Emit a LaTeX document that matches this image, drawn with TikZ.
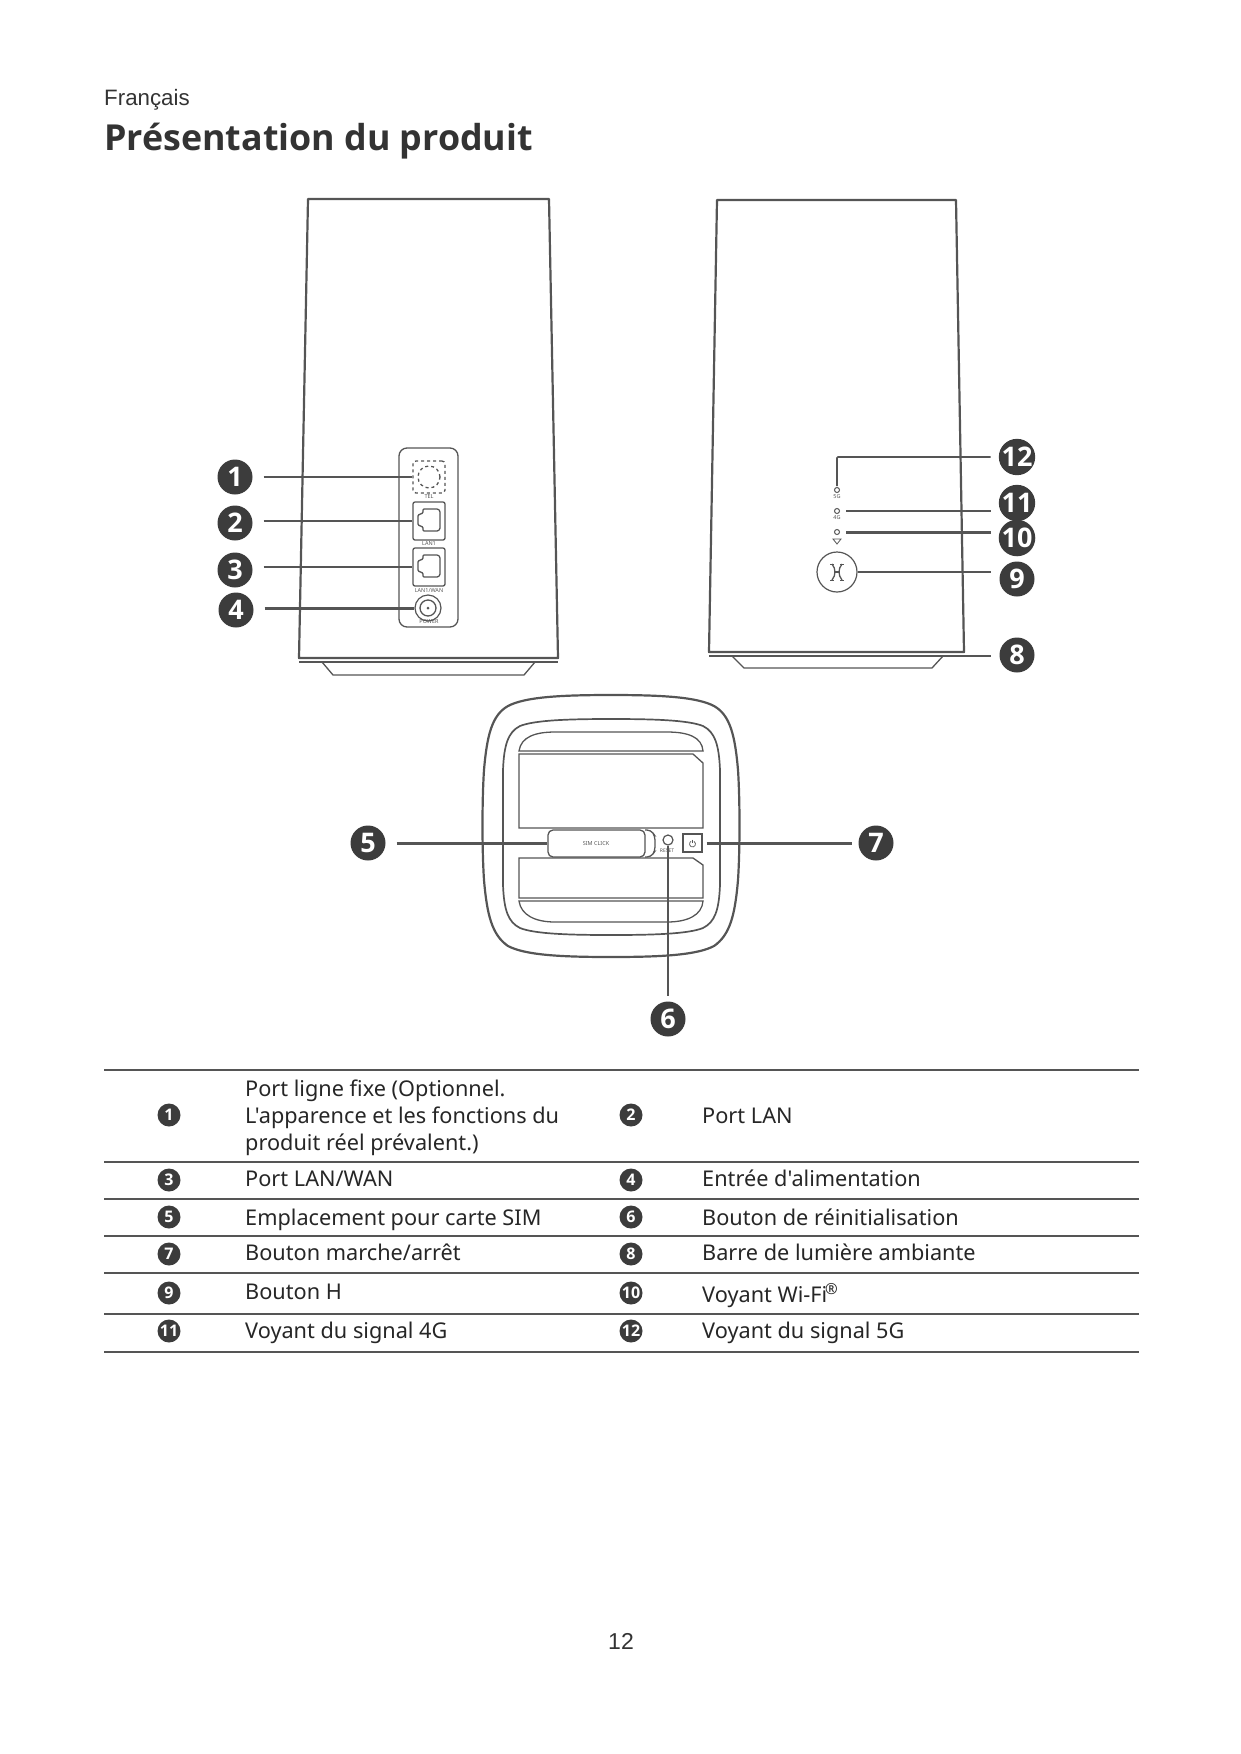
\documentclass[tikz,border=0pt]{standalone}
\usepackage{fontspec}
\setmainfont[Ligatures=TeXOff]{Noto Sans}
\newfontfamily\arialfont{Liberation Sans}
\newfontfamily\headfont{Open Sans}
\usetikzlibrary{positioning,arrows}
\definecolor{linegray}{HTML}{555555}
\definecolor{badgegray}{HTML}{3C3C3C}
\tikzset{
	body/.style={draw=linegray,line width=2.2pt,line join=round},
	thin part/.style={draw=linegray,line width=1.3pt},
	callout/.style={draw=linegray,line width=1.6pt},
	callout wide/.style={draw=linegray,line width=3pt},
	badge/.style={circle,fill=badgegray,text=white,inner sep=0pt,minimum size=35pt,font=\headfont\bfseries\fontsize{27}{27}\selectfont},
	tablebadge/.style={circle,fill=badgegray,text=white,inner sep=0pt,minimum size=23pt,font=\headfont\bfseries\fontsize{16}{16}\selectfont},
	cell/.style={anchor=base west,inner sep=0pt,align=left,text=black!85,font=\fontsize{21.7}{27}\selectfont},
	tiny/.style={inner sep=0pt,text=linegray,font=\fontsize{5.5}{6}\selectfont},
	portbox/.style={thin part,rounded corners=2pt,minimum width=32pt,minimum height=38pt,inner sep=0pt},
	led/.style={circle,draw=linegray,line width=1pt,minimum size=5pt,inner sep=0pt}
}
\begin{document}
\begin{tikzpicture}[x=1pt,y=-1pt]
	\useasboundingbox (0,0) rectangle (1241,1754);
	% heading
	\node[anchor=base west,inner sep=0pt,text=black!80,font=\arialfont\fontsize{22.3}{23}\selectfont] (lang) at (104,105) {Français};
	\node[anchor=base west,inner sep=0pt,text=black!80,font=\headfont\bfseries\fontsize{35.8}{39}\selectfont] (title) at (104,150) {Présentation du produit};
	\node[inner sep=0pt,text=black!80,font=\arialfont\fontsize{23}{23}\selectfont] (pagenum) at (621,1641) {12};

	% back view
	\draw[body] (308,199) -- (549,199) -- (558,658) -- (299,658) -- cycle;
	\draw[thin part] (299,662) -- (558,662);
	\draw[thin part] (322,662) -- (333,675) -- (524,675) -- (535,662);
	\draw[thin part,rounded corners=8pt] (399,448) rectangle (458,627);
	\node[thin part,dashed,minimum size=32pt,inner sep=0pt,rounded corners=3pt] (tel) at (429,477) {};
	\draw[thin part,dashed] (tel) circle[radius=11pt];
	\node[portbox] (lanone) at (429,521) {};
	\node[portbox] (lanwan) at (429,567) {};
	\foreach\y in {521,567}
	{\draw[thin part,rounded corners=1pt] (423,\y-12) -- (438,\y-12) -- (440,\y-10) -- (440,\y+8) -- (438,\y+10) -- (423,\y+10) -- (423,\y+6) -- (418,\y+4) -- (418,\y-6) -- (423,\y-8) -- cycle;}
	\node[circle,draw=linegray,line width=1.2pt,minimum size=26pt,inner sep=0pt] (power) at (428,608) {};
	\draw[thin part] (power) circle[radius=8pt];
	\fill[linegray] (power) circle[radius=1.5pt];
	\node[tiny] (tellabel) at (429,497) {TEL};
	\node[tiny] (lanonelabel) at (429,544) {LAN1};
	\node[tiny] (lanwanlabel) at (429,591) {LAN1/WAN};
	\node[tiny] (powerlabel) at (429,622) {POWER};

	% front view
	\draw[body] (717,200) -- (956,200) -- (964,652) -- (709,652) -- cycle;
	\draw[thin part] (709,656) -- (964,656);
	\draw[thin part] (732,656) -- (744,668) -- (932,668) -- (943,656);
	\node[led] (ledfive) at (837,490) {};
	\node[led] (ledfour) at (837,511) {};
	\node[led] (ledwifi) at (837,532) {};
	\node[tiny] (fivelabel) at (837,497) {5G};
	\node[tiny] (fourlabel) at (837,518) {4G};
	\draw[thin part,line width=0.8pt] (833,539) -- (841,539) -- (837,544) -- cycle;
	\node[circle,draw=linegray,line width=1.2pt,minimum size=40pt,inner sep=0pt] (hbutton) at (837,572) {};
	\draw[thin part] (832,564) .. controls (836,569) and (836,575) .. (832,580);
	\draw[thin part] (842,564) .. controls (838,569) and (838,575) .. (842,580);
	\draw[thin part] (834,572) -- (840,572);
	\foreach\y in {564,580}
	{\draw[thin part,line width=1pt] (830,\y) -- (834,\y); \draw[thin part,line width=1pt] (840,\y) -- (844,\y);}
	\coordinate (barend) at (963,656);

	% top view
	\draw[body] (611,695) .. controls (560,695) and (525,697) .. (508,706) .. controls (492,715) and (487,735) .. (484,770) .. controls (482,800) and (482,850) .. (484,880) .. controls (487,915) and (492,935) .. (508,946) .. controls (525,955) and (560,957) .. (611,957) .. controls (662,957) and (697,955) .. (714,946) .. controls (730,935) and (735,915) .. (738,880) .. controls (740,850) and (740,800) .. (738,770) .. controls (735,735) and (730,715) .. (714,706) .. controls (697,697) and (662,695) .. (611,695) -- cycle;
	\draw[thin part,line width=1.7pt] (611,719) .. controls (570,719) and (535,720) .. (520,726) .. controls (508,732) and (504,745) .. (503,770) -- (503,885) .. controls (504,910) and (508,922) .. (520,928) .. controls (535,934) and (570,935) .. (611,935) .. controls (653,935) and (688,934) .. (703,928) .. controls (715,922) and (719,910) .. (720,885) -- (720,770) .. controls (719,745) and (715,732) .. (703,726) .. controls (688,720) and (653,719) .. (611,719) -- cycle;
	\draw[thin part] (519,751) .. controls (521,737) and (535,732) .. (555,732) -- (667,732) .. controls (688,732) and (702,737) .. (703,751) -- cycle;
	\draw[thin part] (519,754) -- (693,754) -- (703,763) -- (703,828) -- (519,828) -- cycle;
	\draw[thin part] (519,858) -- (693,858) -- (703,865) -- (703,898) -- (519,898) -- cycle;
	\draw[thin part] (519,901) .. controls (521,915) and (535,922) .. (555,922) -- (667,922) .. controls (688,922) and (702,915) .. (703,901) -- cycle;
	\node[thin part,rounded corners=5pt,minimum width=97pt,minimum height=27pt,inner sep=0pt] (simslot) at (596.5,843.5) {};
	\draw[thin part,rounded corners=4pt] (645,830) -- (651,830) -- (655,836) -- (655,851) -- (651,857) -- (645,857);
	\node[tiny] (simlabel) at (596,844) {SIM CLICK};
	\node[circle,draw=linegray,line width=1.2pt,minimum size=10pt,inner sep=0pt] (resetbtn) at (668,840) {};
	\node[tiny,font=\fontsize{5}{5}\selectfont] (resetlabel) at (667,851) {RESET};
	\node[thin part,minimum width=19pt,minimum height=18pt,inner sep=0pt] (powerbtn) at (692.5,843) {};
	\draw[thin part,line width=0.7pt] (692.5,839.5) -- (692.5,843);
	\draw[thin part,line width=0.7pt] (694,841.4) arc[start angle=60,end angle=-240,radius=3pt];

	% numbered badges
	\foreach\n\x\y in {1/235/477, 2/235/523, 3/235/570, 4/236/610, 5/368/843, 6/668/1019, 7/876/843, 8/1017/655, 9/1017/579, 10/1017/538, 11/1017/503, 12/1017/457}
	{\node[badge] (b\n) at (\x,\y) {\n};}

	% callouts
	\draw[callout,shorten <=11pt] (tel.west -| b1.east) -- (tel.west);
	\draw[callout,shorten <=11pt] (lanone.west -| b2.east) -- (lanone.west);
	\draw[callout,shorten <=11pt] (lanwan.west -| b3.east) -- (lanwan.west);
	\draw[callout wide,shorten <=11pt] (power.west -| b4.east) -- (power.west);
	\draw[callout wide,shorten <=11pt] (simslot.west -| b5.east) -- (simslot.west);
	\draw[callout,shorten >=5pt] (resetbtn.south) -- (b6.north);
	\draw[callout wide,shorten <=4pt,shorten >=6pt] (powerbtn.east) -- (powerbtn.east -| b7.west);
	\draw[callout,shorten >=8pt] (barend) -- (barend -| b8.west);
	\draw[callout,shorten >=8pt] (hbutton.east) -- (hbutton.east -| b9.west);
	\draw[callout wide,shorten <=6pt,shorten >=8pt] (ledwifi.east) -- (ledwifi.east -| b10.west);
	\draw[callout,shorten <=6pt,shorten >=8pt] (ledfour.east) -- (ledfour.east -| b11.west);
	\draw[callout,rounded corners=1pt,shorten <=8pt,shorten >=1pt] (b12.west) -| (ledfive.north);

	% table
	\foreach\y in {1070,1162,1199,1236,1273,1314,1352}
	{\draw[linegray,line width=2pt] (104,\y) -- (1139,\y);}
	\foreach\n\x\y in {1/169/1115, 2/631/1115, 3/169/1180, 4/631/1180, 5/169/1217, 6/631/1217, 7/169/1254, 8/631/1254, 9/169/1293, 10/631/1293, 11/169/1331, 12/631/1331}
	{\node[tablebadge] (t\n) at (\x,\y) {\n};}
	\node[cell] (cellone) at (245,1150) {Port ligne fixe (Optionnel.\\L'apparence et les fonctions du\\produit réel prévalent.)};
	\node[cell] (celltwo) at (702,1123) {Port LAN};
	\node[cell] (cellthree) at (245,1186) {Port LAN/WAN};
	\node[cell] (cellfour) at (702,1186) {Entrée d'alimentation};
	\node[cell] (cellfive) at (245,1225) {Emplacement pour carte SIM};
	\node[cell] (cellsix) at (702,1225) {Bouton de réinitialisation};
	\node[cell] (cellseven) at (245,1260) {Bouton marche/arrêt};
	\node[cell] (celleight) at (702,1260) {Barre de lumière ambiante};
	\node[cell] (cellnine) at (245,1299) {Bouton H};
	\node[cell] (cellten) at (702,1302) {Voyant Wi-Fi\kern-2pt\textsuperscript{®}};
	\node[cell] (celleleven) at (245,1338) {Voyant du signal 4G};
	\node[cell] (celltwelve) at (702,1338) {Voyant du signal 5G};
\end{tikzpicture}
\end{document}
